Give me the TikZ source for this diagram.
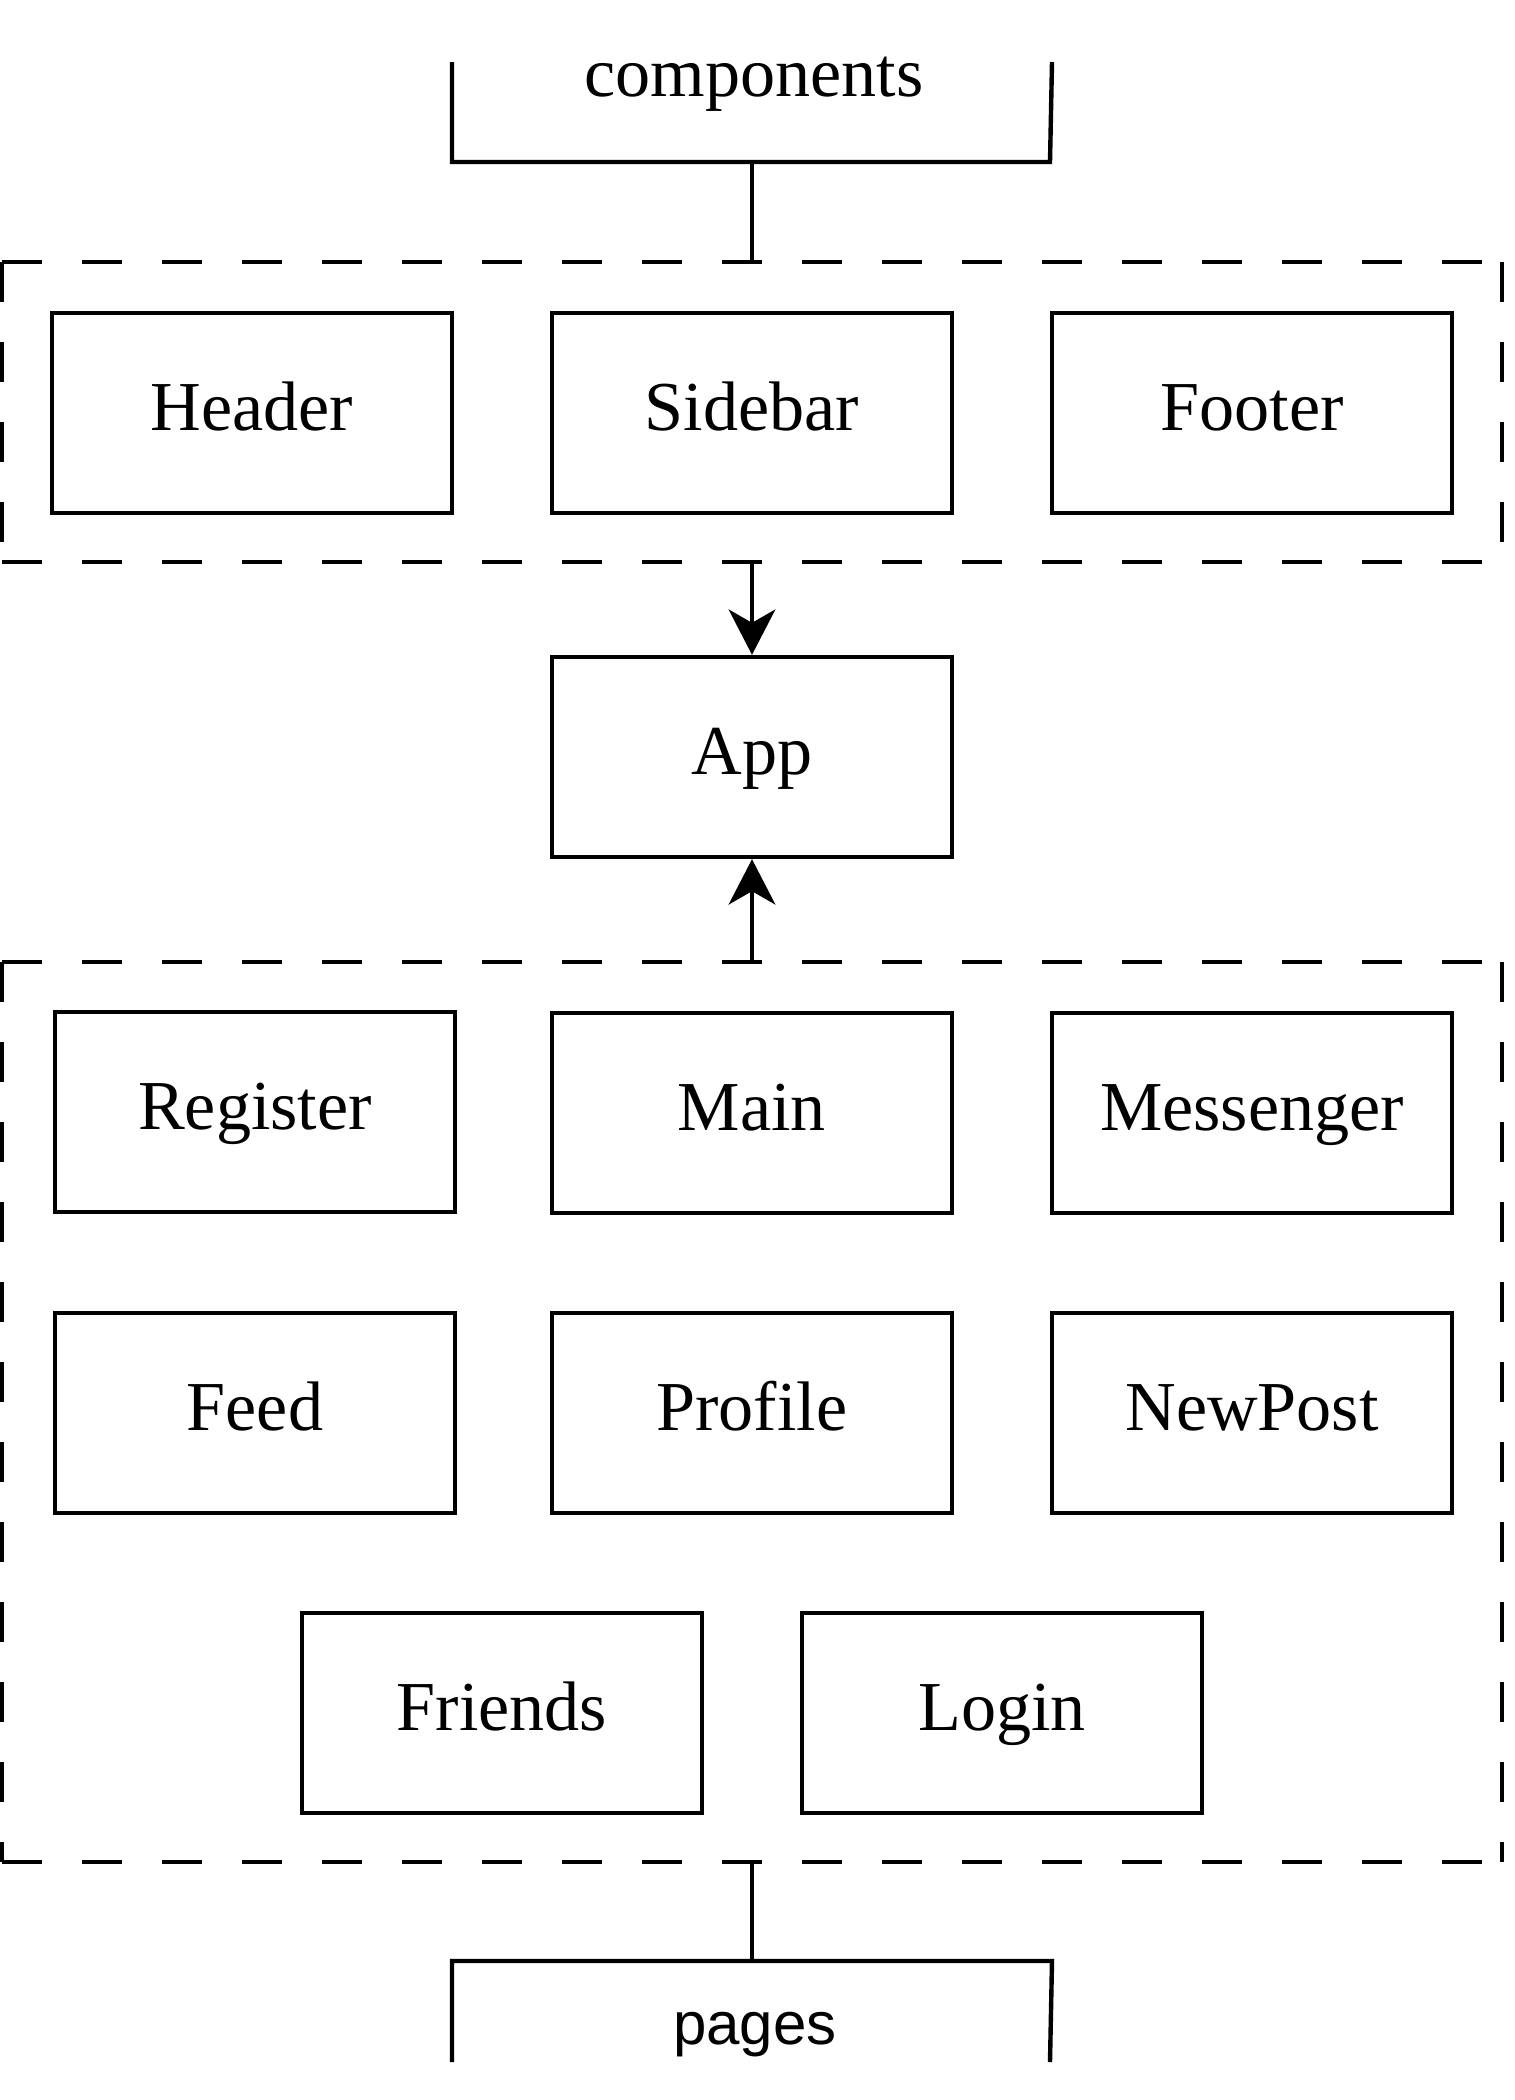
\documentclass[tikz,border=0pt]{standalone}
\usepackage{fontspec}
\setmainfont{Liberation Serif}
\newfontfamily\labelsans{Liberation Sans}
\usetikzlibrary{arrows.meta}
\begin{document}
\begin{tikzpicture}[x=0.375pt,y=-0.375pt,
  box/.style={draw,line width=1.65pt,minimum width=150pt,minimum height=75pt,inner sep=0pt,
    font=\fontsize{26.3}{31}\selectfont,text height=19.7pt,text depth=6.6pt},
  grp/.style={inner sep=0pt,outer sep=0pt,minimum width=562.5pt},
  dashside/.style={line width=1.75pt,dash pattern=on 15pt off 15pt},
  conn/.style={line width=1.35pt},
  arr/.style={conn,-{Stealth[length=17pt,width=17.5pt,inset=5pt]}},
  brk/.style={line width=1.65pt}]
\useasboundingbox (0,0) rectangle (1515,2100);

% top bracket
\node[font=\fontsize{26.3}{31}\selectfont,anchor=base,inner sep=0pt] (comp) at (754,96) {components};
\draw[brk] (452,62) -- (452,162) -- (1050,162) -- (1052,62);
\coordinate (compbot) at (752,162);

% group 1
\node[grp,minimum height=112.5pt] (g1) at (752,412) {};
\draw[dashside] (g1.north west) -- (g1.north east);
\draw[dashside] (g1.south west) -- (g1.south east);
\draw[dashside] (g1.north west) -- (g1.south west);
\draw[dashside] (g1.north east) -- (g1.south east);

\node[box] (header) at (252,413) {Header};
\node[box] (sidebar) at (752,413) {Sidebar};
\node[box] (footer) at (1252,413) {Footer};

% App
\node[box] (app) at (752,757) {App};

% group 2
\node[grp,minimum height=337.5pt] (g2) at (752,1412) {};
\draw[dashside] (g2.north west) -- (g2.north east);
\draw[dashside] (g2.south west) -- (g2.south east);
\draw[dashside] (g2.north west) -- (g2.south west);
\draw[dashside] (g2.north east) -- (g2.south east);

\node[box] (register) at (255,1112) {Register};
\node[box] (main) at (752,1113) {Main};
\node[box] (messenger) at (1252,1113) {Messenger};
\node[box] (feed) at (255,1413) {Feed};
\node[box] (profile) at (752,1413) {Profile};
\node[box] (newpost) at (1252,1413) {NewPost};
\node[box] (friends) at (502,1713) {Friends};
\node[box] (login) at (1002,1713) {Login};

% bottom bracket
\coordinate (pagestop) at (752,1961);
\draw[brk] (452,2062) -- (452,1961) -- (1052,1961) -- (1050,2062);
\node[font=\labelsans\fontsize{22.5}{27}\selectfont,anchor=base,inner sep=0pt] (pages) at (755,2044) {pages};

% connectors
\draw[conn] (compbot) -- (g1.north);
\draw[arr] (g1.south) -- (app.north);
\draw[arr] (g2.north) -- (app.south);
\draw[conn] (g2.south) -- (pagestop);
\end{tikzpicture}
\end{document}
